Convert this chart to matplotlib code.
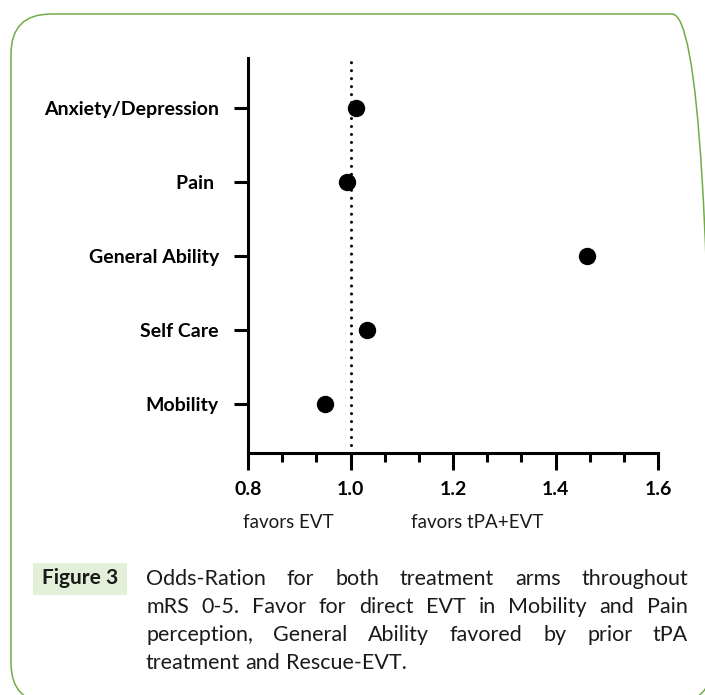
import matplotlib.pyplot as plt
from matplotlib.patches import FancyBboxPatch, Rectangle

# data
categories = ['Mobility', 'Self Care', 'General Ability', 'Pain ', 'Anxiety/Depression']
odds_ratio = [0.950, 1.032, 1.462, 0.993, 1.010]
major_ticks = [0.8, 1.0, 1.2, 1.4, 1.6]
tick_labels = ['0.8', '1.0', '1.2', '1.4', '1.6']
caption_lines = [
    'Odds-Ration for both treatment arms throughout',
    'mRS 0-5. Favor for direct EVT in Mobility and Pain',
    'perception, General Ability favored by prior tPA',
    'treatment and Rescue-EVT.',
]

W, H = 705, 695
plt.rcParams['font.family'] = ['Lato', 'DejaVu Sans']

fig = plt.figure(figsize=(W / 100, H / 100), dpi=100)

# axes placed in pixel coordinates of the reference
left, right, top, bottom = 248, 658, 58, 453
ax = fig.add_axes([left / W, 1 - bottom / H, (right - left) / W, (bottom - top) / H])

ypos = list(range(1, len(categories) + 1))
ax.plot(odds_ratio, ypos, 'o', color='black', markersize=11.5, zorder=3)
ax.axvline(1.0, color='black', lw=2.2, linestyle=(0, (0.01, 2.6)),
           dash_capstyle='round', zorder=2)

ax.set_xlim(0.8, 1.6)
ax.set_ylim(0.338, 5.676)
ax.set_xticks(major_ticks)
ax.set_xticklabels(tick_labels, fontsize=14, fontweight='bold')
minor = []
for a in major_ticks[:-1]:
    minor += [a + 0.2 / 3, a + 0.4 / 3]
ax.set_xticks(minor, minor=True)
ax.set_yticks(ypos)
ax.set_yticklabels(categories, fontsize=14, fontweight='bold')

ax.tick_params(axis='x', which='major', length=12.5, width=2.2, pad=8)
ax.tick_params(axis='x', which='minor', length=6.5, width=2.2)
ax.tick_params(axis='y', length=10, width=2.2, pad=11)

for s in ['top', 'right']:
    ax.spines[s].set_visible(False)
for s in ['left', 'bottom']:
    ax.spines[s].set_linewidth(2.2)
    ax.spines[s].set_capstyle('projecting')

fig.text(288 / W, 1 - 522 / H, 'favors EVT', fontsize=13.5, ha='center', va='center', color='#1a1a1a')
fig.text(477 / W, 1 - 522 / H, 'favors tPA+EVT', fontsize=13.5, ha='center', va='center', color='#1a1a1a')

# outer rounded green frame (runs off the right and bottom edges)
frame = FancyBboxPatch((11, H - 703), 701, 689, boxstyle='round,pad=0,rounding_size=40',
                       transform=None, fill=False, edgecolor='#70ad47', linewidth=1.1,
                       clip_on=False)
fig.patches.append(frame)

# "Figure 3" label box
fig.patches.append(Rectangle((33, H - 595), 94, 32, transform=None,
                             facecolor='#e2efd9', edgecolor='none'))
fig.text(80 / W, 1 - 578 / H, 'Figure 3', fontsize=15, fontweight='bold',
         ha='center', va='center', color='#1a1a1a')

# justified caption
x0, x1 = 146, 688
baselines = [585, 613, 641, 669]
renderer = fig.canvas.get_renderer()
for i, line in enumerate(caption_lines):
    words = line.split()
    texts = [fig.text(0, 0, w, fontsize=15.5, color='#1a1a1a', va='baseline',
                      transform=None) for w in words]
    widths = [t.get_window_extent(renderer).width for t in texts]
    if i < len(caption_lines) - 1 and len(words) > 1:
        gap = (x1 - x0 - sum(widths)) / (len(words) - 1)
    else:
        gap = texts[0].get_fontsize() * 100 / 72 * 0.25
    x = x0
    for t, w in zip(texts, widths):
        t.set_position((x, H - baselines[i]))
        x += w + gap

fig.savefig('out.png', dpi=100)
